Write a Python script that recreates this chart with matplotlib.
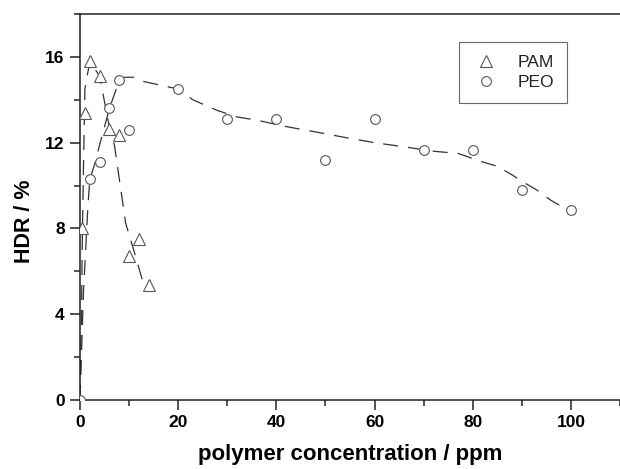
"""HDR vs polymer concentration for PAM and PEO, with dashed trend curves."""

import matplotlib

matplotlib.use("Agg")
import matplotlib.pyplot as plt  # noqa: E402
from matplotlib.ticker import MultipleLocator  # noqa: E402

# measured points
pam_conc = [0.5, 1, 2, 4, 6, 8, 10, 12, 14]
pam_hdr = [8.0, 13.4, 15.8, 15.1, 12.65, 12.35, 6.7, 7.5, 5.35]
peo_conc = [0, 2, 4, 6, 8, 10, 20, 30, 40, 50, 60, 70, 80, 90, 100]
peo_hdr = [0.0, 10.3, 11.1, 13.6, 14.9, 12.6, 14.5, 13.1, 13.1, 11.2, 13.1, 11.65, 11.65, 9.8, 8.85]

# dashed trend curves
pam_fit_conc = [0, 0.3, 0.5, 0.8, 1.0, 2, 4, 6, 7, 9.3, 10.8, 12.7, 14]
pam_fit_hdr = [0.0, 4.0, 8.0, 12.0, 14.5, 15.8, 15.1, 12.7, 11.9, 8.25, 7.1, 5.6, 5.35]
peo_fit_conc = [0, 0.7, 1.6, 2, 3, 4, 6, 8, 9, 11, 13, 16, 20, 23, 28, 32, 36, 42, 48,
                55, 60, 65, 72, 77, 82, 85, 88, 90, 93, 96, 98, 100]
peo_fit_hdr = [0.0, 5.0, 9.0, 10.3, 11.0, 11.9, 13.6, 14.9, 15.05, 15.05, 14.85, 14.7,
               14.5, 14.0, 13.5, 13.2, 13.05, 12.75, 12.5, 12.2, 12.0, 11.84, 11.6, 11.5,
               11.1, 10.9, 10.5, 10.2, 9.8, 9.3, 9.04, 8.86]

plt.rcParams.update({
    "font.family": ["Liberation Sans", "DejaVu Sans"],
    "axes.linewidth": 1.1,
})

fig = plt.figure(figsize=(6.2, 4.69), dpi=100)
ax = fig.add_axes([80 / 620, 69 / 469, 540 / 620, 386 / 469])

line_kw = dict(color="#333333", linewidth=0.9, linestyle=(0, (12, 8)), zorder=2)
ax.plot(pam_fit_conc, pam_fit_hdr, **line_kw)
ax.plot(peo_fit_conc, peo_fit_hdr, **line_kw)

mark_kw = dict(linestyle="", markerfacecolor="white", markeredgecolor="#555555",
               markeredgewidth=0.8, zorder=3)
ax.plot(pam_conc, pam_hdr, marker="^", markersize=8, label="PAM", **mark_kw)
ax.plot(peo_conc, peo_hdr, marker="o", markersize=7, label="PEO", **mark_kw)

ax.set_xlim(0, 110)
ax.set_ylim(0, 18)
ax.xaxis.set_major_locator(MultipleLocator(20))
ax.xaxis.set_minor_locator(MultipleLocator(10))
ax.yaxis.set_major_locator(MultipleLocator(4))
ax.yaxis.set_minor_locator(MultipleLocator(2))
ax.tick_params(which="both", direction="out", top=False, right=False, width=1.1,
               color="#222222")
ax.tick_params(which="major", length=7, labelsize=12.5, pad=4)
ax.tick_params(which="minor", length=4)
for lab in ax.get_xticklabels() + ax.get_yticklabels():
    lab.set_fontweight("bold")
ax.spines["right"].set_visible(False)
for side in ("left", "top", "bottom"):
    ax.spines[side].set_color("#222222")

ax.set_xlabel("polymer concentration / ppm", fontsize=16, fontweight="bold")
ax.xaxis.set_label_coords(0.5, -0.115)
ax.set_ylabel("HDR / %", fontsize=15.5, fontweight="bold")
ax.yaxis.set_label_coords(-0.083, 0.464)

leg = ax.legend(loc="upper right", bbox_to_anchor=(0.902, 0.928), fontsize=12.5,
                fancybox=False, edgecolor="#444444", handlelength=1.6,
                handletextpad=1.0, borderpad=0.75, labelspacing=0.3,
                borderaxespad=0)
leg.get_frame().set_linewidth(0.8)
for t in leg.get_texts():
    t.set_color("#222222")

fig.savefig("out.png", dpi=100)
